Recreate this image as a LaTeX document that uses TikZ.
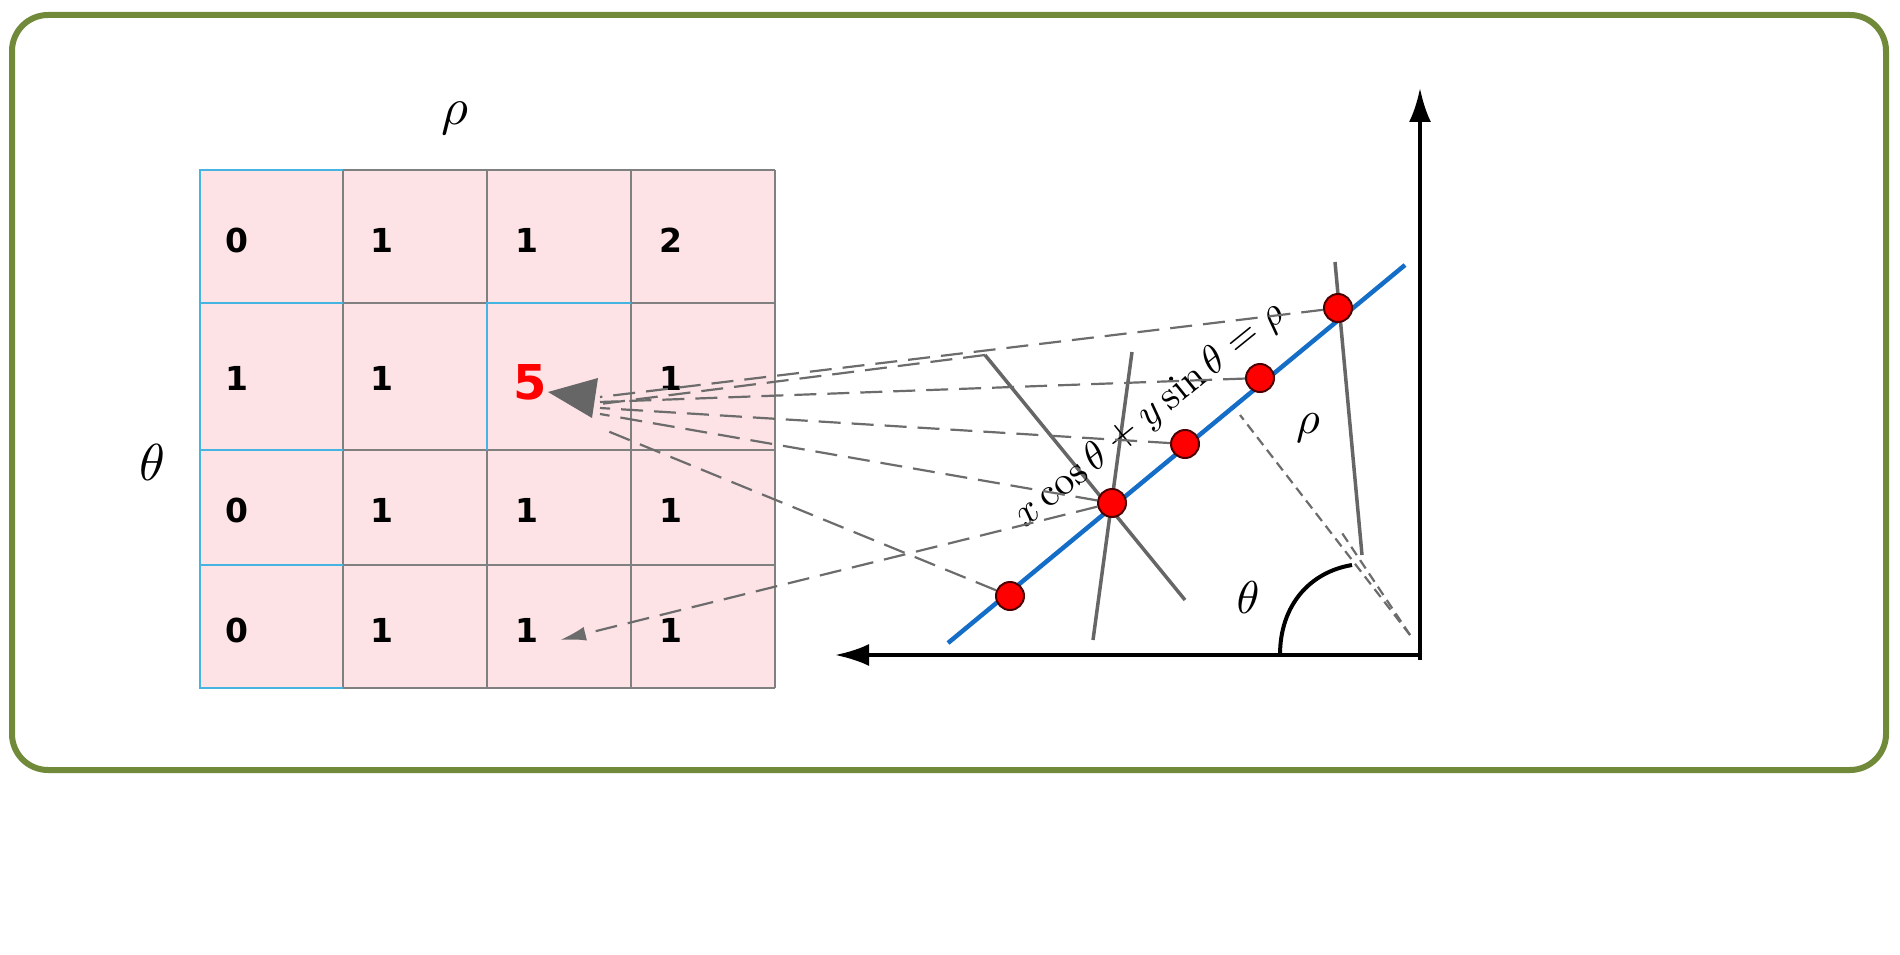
\documentclass[tikz,border=0pt]{standalone}
\usepackage{fontspec}
\setsansfont{DejaVu Sans}
\usetikzlibrary{arrows.meta}
\definecolor{frame}{RGB}{112,138,58}
\definecolor{cellpink}{RGB}{253,226,230}
\definecolor{cellblue}{RGB}{70,180,225}
\definecolor{lineblue}{RGB}{20,110,200}
\tikzset{
 num/.style={font=\sffamily\bfseries\fontsize{33}{35}\selectfont, anchor=west},
 dsh/.style={draw=gray!85!black, line width=2.2pt, dash pattern=on 22pt off 11pt},
 dot/.style={circle, fill=red, draw=black!70!red, line width=2pt, minimum size=28pt, inner sep=0pt},
 solidg/.style={draw=gray!80!black, line width=3.5pt},
 axis/.style={draw=black, line width=4pt, -{Latex[length=34pt,width=22pt]}},
 bigm/.style={scale=5.2}
}
\begin{document}
\begin{tikzpicture}[x=1pt,y=-1pt]
\useasboundingbox (0,0) rectangle (1900,955);
\draw[frame, line width=6pt, rounded corners=36pt] (12,15) rectangle (1886,770);
% grid
\fill[cellpink] (200,170) rectangle (775,688);
\foreach \x in {343,487,631,775} \draw[gray, line width=2pt] (\x,170) -- (\x,688);
\foreach \y in {170,303,450,565,688} \draw[gray, line width=2pt] (200,\y) -- (775,\y);
\draw[cellblue, line width=2pt] (343,170) -- (200,170) -- (200,688) -- (343,688);
\foreach \y in {303,450,565} \draw[cellblue, line width=2pt] (200,\y) -- (343,\y);
\draw[cellblue, line width=2pt] (487,450) -- (487,303) -- (631,303);
\node[bigm] (rho) at (455,118) {$\rho$};
\node[bigm] (th) at (152,462) {$\theta$};
\foreach \r/\y in {1/240,2/378,3/510,4/630}{
 \foreach \c/\x in {1/222,2/367,3/512,4/656}{
  \coordinate (c\r\c) at (\x,\y);}}
\node[num] at (c11) {0};\node[num] at (c12) {1};\node[num] at (c13) {1};\node[num] at (c14) {2};
\node[num] at (c21) {1};\node[num] at (c22) {1};\node[num, red, font=\sffamily\bfseries\fontsize{48}{50}\selectfont] (five) at (510,382) {5};\node[num] at (c24) {1};
\node[num] at (c31) {0};\node[num] at (c32) {1};\node[num] at (c33) {1};\node[num] at (c34) {1};
\node[num] at (c41) {0};\node[num] at (c42) {1};\node[num] at (c43) {1};\node[num] at (c44) {1};
% axes
\draw[axis] (1420,660) -- (1420,88);
\draw[axis] (1422,655) -- (835,655);
% blue line
\draw[lineblue, line width=4.5pt] (948,643) -- (1405,265);
% gray solid lines
\draw[solidg] (985,355) -- (1185,600);
\draw[solidg] (1132,352) -- (1093,640);
\draw[solidg] (1335,262) -- (1362,555);
% perpendicular dashed
\draw[dsh, dash pattern=on 10pt off 6pt] (1410,635) -- (1240,415);
\draw[dsh, dash pattern=on 10pt off 6pt] (1410,635) -- (1340,530);
% angle arc
\draw[black, line width=4pt] (1280,655) .. controls (1280,605) and (1310,572) .. (1352,565);
\node[scale=4.6] at (1248,598) {$\theta$};
\node[scale=4.6] at (1308,428) {$\rho$};
% equation
\node[rotate=39, scale=4] at (1150,415) {$x\cos\theta + y\sin\theta = \rho$};
% dots
\node[dot] (p1) at (1010,596) {};
\node[dot] (p2) at (1112,503) {};
\node[dot] (p3) at (1185,444) {};
\node[dot] (p4) at (1260,378) {};
\node[dot] (p5) at (1338,308) {};
\coordinate (tip) at (548,392);
% dashed connectors
\draw[dsh] (p5) -- (600,397);
\draw[dsh] (985,355) -- (600,404);
\draw[dsh] (p4) -- (600,402);
\draw[dsh] (p3) -- (600,408);
\draw[dsh] (p2) -- (600,414);
\draw[dsh] (p1) -- (605,430);
\fill[gray!80!black] (tip) -- (598,378) -- (592,418) -- cycle;
\draw[dsh, -{Latex[length=26pt,width=14pt]}] (p2) -- (560,640);
\end{tikzpicture}
\end{document}
